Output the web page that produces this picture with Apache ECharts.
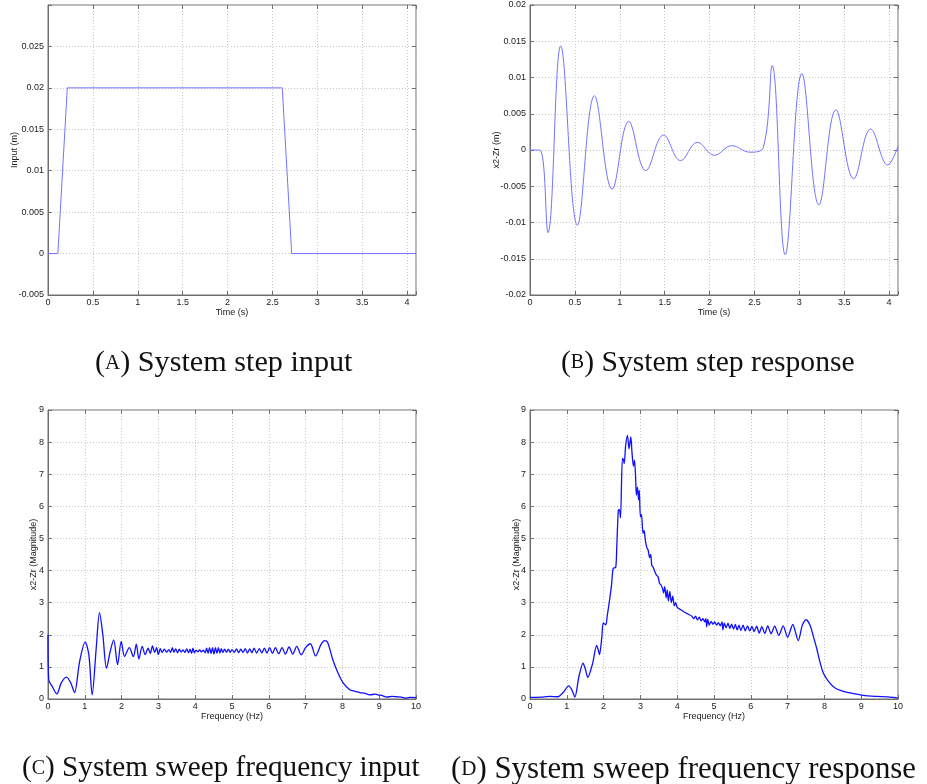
<!DOCTYPE html>
<html>
<head>
<meta charset="utf-8">
<script src="https://cdn.jsdelivr.net/npm/echarts@6/dist/echarts.min.js"></script>
<style>html,body{margin:0;padding:0;background:#fff}#c{width:927px;height:784px}</style>
</head>
<body>
<div id="c"></div>
<script>
// ---- Data ----
// (A) step input: [time s, input m]
const stepInput = [[0,0],[0.11,0],[0.215,0.02],[2.61,0.02],[2.715,0],[4.1,0]];

// (B) step response extrema: [time s, x2-Zr m]
const stepResponse = [
  [0,0],[0.108,0],[0.2,-0.0114],[0.342,0.01436],[0.528,-0.01037],[0.718,0.00748],
  [0.915,-0.00541],[1.10,0.00394],[1.29,-0.00284],[1.488,0.00206],[1.678,-0.00147],
  [1.864,0.00106],[2.054,-0.00073],[2.247,0.0006],[2.45,-0.0003],[2.60,0.00037],
  [2.698,0.01165],[2.843,-0.01445],[3.029,0.01055],[3.219,-0.00757],[3.408,0.00555],
  [3.606,-0.00395],[3.795,0.00289],[3.985,-0.00206],[4.1,0.0005]
];

// (C) sweep frequency input: [frequency Hz, magnitude]
const sweepInput = [
  [0,2.0],[0.02,0.6],[0.12,0.38],[0.24,0.16],[0.36,0.5],[0.5,0.68],[0.62,0.5],[0.72,0.2],
  [0.86,1.17],[1.01,1.77],[1.11,1.38],[1.2,0.13],[1.31,1.58],[1.40,2.69],[1.49,2.0],[1.59,0.96],
  [1.69,1.48],[1.785,1.84],[1.89,1.07],[1.99,1.79],[2.08,1.33],[2.21,1.6],[2.32,1.32],[2.40,1.71],
  [2.47,1.25],[2.56,1.64],[2.64,1.38],[2.72,1.58],[2.78,1.42],[2.84,1.65],[2.90,1.45],[2.95,1.6],
  [3.0,1.38],[3.05,1.57],[3.10,1.45],[3.16,1.55],[3.22,1.46],[3.28,1.54],[3.33,1.45],[3.38,1.6],
  [3.42,1.45],[3.47,1.56],[3.52,1.44],[3.57,1.55],[3.62,1.46],[3.67,1.53],[3.72,1.45],[3.77,1.56],
  [3.82,1.44],[3.86,1.55],[3.90,1.42],[3.94,1.58],[3.98,1.44],[4.02,1.52],[4.07,1.47],[4.12,1.53],
  [4.17,1.47],[4.22,1.52],[4.27,1.44],[4.31,1.58],[4.35,1.42],[4.39,1.6],[4.43,1.41],[4.47,1.6],
  [4.51,1.4],[4.55,1.6],[4.59,1.42],[4.63,1.6],[4.67,1.43],[4.71,1.57],[4.75,1.45],[4.80,1.55],
  [4.85,1.46],[4.90,1.55],[4.95,1.45],[5.0,1.54],[5.06,1.45],[5.12,1.56],[5.18,1.44],[5.24,1.55],
  [5.3,1.45],[5.36,1.57],[5.42,1.43],[5.48,1.56],[5.54,1.44],[5.6,1.58],[5.67,1.43],[5.74,1.57],
  [5.81,1.44],[5.88,1.58],[5.95,1.43],[6.02,1.6],[6.1,1.42],[6.18,1.6],[6.27,1.41],[6.36,1.6],
  [6.45,1.4],[6.55,1.62],[6.65,1.4],[6.76,1.64],[6.88,1.38],[7.0,1.6],[7.13,1.72],[7.27,1.34],
  [7.42,1.7],[7.52,1.82],[7.6,1.76],[7.74,1.22],[7.88,0.81],[8.02,0.5],[8.2,0.29],[8.35,0.24],
  [8.47,0.2],[8.6,0.18],[8.74,0.13],[8.9,0.15],[8.97,0.13],[9.1,0.1],[9.2,0.06],[9.35,0.08],
  [9.47,0.07],[9.6,0.06],[9.74,0.03],[9.85,0.05],[10,0.04]
];

// (D) sweep frequency response: [frequency Hz, magnitude]
const sweepResponse = [
  [0,0.05],[0.3,0.06],[0.53,0.08],[0.76,0.07],[0.9,0.2],[1.05,0.41],[1.13,0.3],[1.22,0.06],
  [1.33,0.7],[1.44,1.12],[1.5,0.95],[1.57,0.67],[1.7,1.1],[1.81,1.67],[1.85,1.55],[1.89,1.38],
  [1.95,1.9],[1.99,2.37],[2.06,2.31],[2.1,2.6],[2.17,3.14],[2.22,3.6],[2.26,4.07],[2.33,4.1],
  [2.36,4.8],[2.40,5.88],[2.43,5.9],[2.46,5.64],[2.51,7.49],[2.54,7.45],[2.56,7.33],[2.6,7.9],
  [2.65,8.21],[2.69,7.79],[2.74,8.16],[2.77,7.7],[2.81,7.25],[2.84,7.44],[2.87,6.9],[2.89,6.35],
  [2.92,6.6],[2.95,6.2],[2.97,6.5],[3.0,5.67],[3.03,5.75],[3.07,5.16],[3.1,5.25],[3.14,4.9],
  [3.18,4.7],[3.21,4.64],[3.25,4.4],[3.28,4.5],[3.31,4.15],[3.34,4.12],[3.4,3.95],[3.44,3.85],
  [3.48,3.81],[3.52,3.6],[3.56,3.55],[3.6,3.45],[3.63,3.3],[3.66,3.5],[3.7,3.15],[3.73,3.4],
  [3.76,3.05],[3.8,3.35],[3.84,3.0],[3.88,3.2],[3.92,2.9],[3.96,3.0],[4.0,2.85],[4.1,2.78],
  [4.2,2.7],[4.3,2.64],[4.4,2.58],[4.45,2.5],[4.5,2.58],[4.55,2.46],[4.6,2.55],[4.65,2.43],
  [4.7,2.5],[4.75,2.4],[4.78,2.5],[4.8,2.25],[4.83,2.48],[4.87,2.3],[4.92,2.42],[4.97,2.33],
  [5.02,2.4],[5.07,2.3],[5.12,2.38],[5.17,2.28],[5.22,2.4],[5.24,2.15],[5.28,2.36],[5.33,2.22],
  [5.38,2.36],[5.43,2.2],[5.48,2.33],[5.53,2.18],[5.58,2.32],[5.63,2.15],[5.68,2.3],[5.73,2.13],
  [5.79,2.3],[5.85,2.12],[5.91,2.28],[5.97,2.12],[6.03,2.26],[6.09,2.1],[6.16,2.27],[6.23,2.05],
  [6.3,2.25],[6.38,2.04],[6.46,2.28],[6.55,2.03],[6.65,2.27],[6.76,1.98],[6.88,2.28],[7.0,1.92],
  [7.14,2.32],[7.29,1.82],[7.4,2.3],[7.5,2.47],[7.61,2.3],[7.7,1.95],[7.79,1.58],[7.88,1.15],
  [7.97,0.81],[8.11,0.55],[8.29,0.34],[8.51,0.24],[8.79,0.17],[9.06,0.11],[9.42,0.08],
  [9.78,0.06],[10,0.03]
];

// Axis labels and captions
const xNames = ['Time (s)', 'Time (s)', 'Frequency (Hz)', 'Frequency (Hz)'];
const yNames = ['Input (m)', 'x2-Zr (m)', 'x2-Zr (Magnitude)', 'x2-Zr (Magnitude)'];
const captionLetters = ['A', 'B', 'C', 'D'];
const captionTexts = ['System step input', 'System step response', 'System sweep frequency input', 'System sweep frequency response'];

// ---- Chart ----
const chart = echarts.init(document.getElementById('c'), null, {renderer: 'canvas'});
const AX = '#6e6e6e';
const sans = 'Liberation Sans';
const fmt = (hideAbove) => (v) => (v > hideAbove ? '' : String(parseFloat(v.toFixed(4))));

const grids = [
  {left: 48, top: 5, width: 368, height: 290},
  {left: 530, top: 5, width: 368, height: 290},
  {left: 48, top: 410, width: 368, height: 289},
  {left: 530, top: 410, width: 368, height: 289}
].map(g => Object.assign({show: true, borderColor: AX, borderWidth: 1, backgroundColor: '#fff'}, g));

const xRanges = [
  {min: 0, max: 4.1, interval: 0.5, hide: 4.05},
  {min: 0, max: 4.1, interval: 0.5, hide: 4.05},
  {min: 0, max: 10, interval: 1, hide: 100},
  {min: 0, max: 10, interval: 1, hide: 100}
];
const yRanges = [
  {min: -0.005, max: 0.03, interval: 0.005, hide: 0.0299},
  {min: -0.02, max: 0.02, interval: 0.005, hide: 1},
  {min: 0, max: 9, interval: 1, hide: 100},
  {min: 0, max: 9, interval: 1, hide: 100}
];
const yGaps = [29, 29, 10, 9];

const splitLine = {show: true, lineStyle: {color: '#c8c8c8', type: [1, 2], width: 1}};
const tick = {show: true, inside: true, length: 4, lineStyle: {color: AX}};
const hiddenLine = {show: false, onZero: false};

const xAxis = xRanges.map((r, i) => ({
  type: 'value', gridIndex: i, min: r.min, max: r.max, interval: r.interval,
  name: xNames[i], nameLocation: 'middle', nameGap: 13, nameMoveOverlap: false,
  nameTextStyle: {fontFamily: sans, fontSize: 9, color: '#222'},
  axisLine: {show: true, onZero: false, lineStyle: {color: AX}},
  axisTick: tick,
  axisLabel: {fontFamily: sans, fontSize: 9, color: '#222', margin: 3, formatter: fmt(r.hide)},
  splitLine: splitLine
})).concat(xRanges.map((r, i) => ({
  type: 'value', gridIndex: i, position: 'top', min: r.min, max: r.max, interval: r.interval,
  axisLine: hiddenLine, axisTick: tick, axisLabel: {show: false}, splitLine: {show: false}
})));
const yAxis = yRanges.map((r, i) => ({
  type: 'value', gridIndex: i, min: r.min, max: r.max, interval: r.interval,
  name: yNames[i], nameLocation: 'middle', nameGap: yGaps[i], nameRotate: 90, nameMoveOverlap: false,
  nameTextStyle: {fontFamily: sans, fontSize: 9, color: '#222'},
  axisLine: {show: true, onZero: false, lineStyle: {color: AX}},
  axisTick: tick,
  axisLabel: {fontFamily: sans, fontSize: 9, color: '#222', margin: 4, formatter: fmt(r.hide)},
  splitLine: splitLine
})).concat(yRanges.map((r, i) => ({
  type: 'value', gridIndex: i, position: 'right', min: r.min, max: r.max, interval: r.interval,
  axisLine: hiddenLine, axisTick: tick, axisLabel: {show: false}, splitLine: {show: false}
})));

const seriesData = [stepInput, stepResponse, sweepInput, sweepResponse];
const seriesStyle = [
  {color: '#7373ff', width: 1, smooth: false},
  {color: '#7373ff', width: 1, smooth: 0.4},
  {color: '#1010ff', width: 1.3, smooth: 0.3},
  {color: '#1010ff', width: 1.3, smooth: 0.25}
];
const series = seriesData.map((d, i) => ({
  type: 'line', xAxisIndex: i, yAxisIndex: i, data: d, showSymbol: false, symbol: 'none',
  smooth: seriesStyle[i].smooth, animation: false,
  lineStyle: {color: seriesStyle[i].color, width: seriesStyle[i].width}
}));

const capPos = [[95, 348], [561, 348], [22, 754], [451, 754]];
const capSize = [30.2, 29.6, 29.2, 30.8];
const title = captionLetters.map((L, i) => ({
  text: '{p|(}{s|' + L + '}{p|) ' + captionTexts[i] + '}',
  left: capPos[i][0], top: capPos[i][1], padding: 0,
  textStyle: {
    fontWeight: 'normal',
    rich: {
      p: {fontFamily: 'Liberation Serif', fontSize: capSize[i], fontWeight: 'normal', color: '#111'},
      s: {fontFamily: 'Liberation Serif', fontSize: Math.round(capSize[i] * 0.69), fontWeight: 'normal', color: '#111'}
    }
  }
}));

chart.setOption({
  animation: false,
  backgroundColor: '#fff',
  title: title,
  grid: grids,
  xAxis: xAxis,
  yAxis: yAxis,
  series: series
});
</script>
</body>
</html>
